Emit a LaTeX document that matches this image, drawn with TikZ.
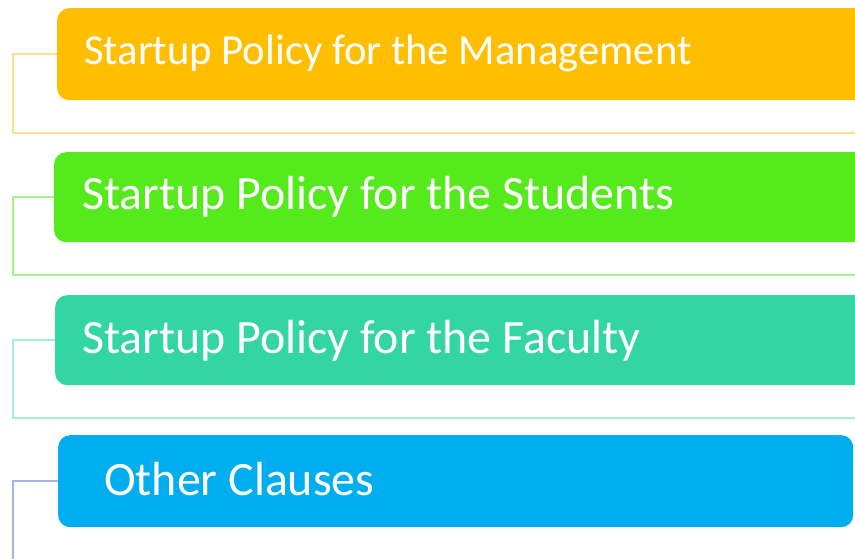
\documentclass[tikz,border=0pt]{standalone}
\usepackage{fontspec}
\setmainfont{Carlito}
\usepackage{tikz}
\usetikzlibrary{calc}
\definecolor{mgmtcol}{HTML}{FFBF00}
\definecolor{studcol}{HTML}{55EA1B}
\definecolor{faccol}{HTML}{33D6A2}
\definecolor{othcol}{HTML}{00AEEF}
\definecolor{mgmtline}{HTML}{FFE08E}
\definecolor{studline}{HTML}{A6F28A}
\definecolor{facline}{HTML}{A6EED8}
\definecolor{othline}{HTML}{A8B2E6}
\tikzset{
  policybox/.style={
    rectangle, rounded corners=12pt, inner sep=0pt, anchor=north west
  },
  policytext/.style={
    anchor=base west, inner sep=0pt, text=white
  },
  bracket/.style={
    line width=1.6pt
  }
}

\begin{document}
\begin{tikzpicture}[x=1pt,y=-1pt]
  \clip (0,0) rectangle (855,559);
  \useasboundingbox (0,0) rectangle (855,559);

  % Boxes
  \node[policybox, fill=mgmtcol, minimum width=830pt, minimum height=92pt] (mgmt) at (57,8) {};
  \node[policybox, fill=studcol, minimum width=830pt, minimum height=90pt] (stud) at (54,152) {};
  \node[policybox, fill=faccol, minimum width=830pt, minimum height=90pt] (fac) at (55,295) {};
  \node[policybox, fill=othcol, minimum width=795pt, minimum height=92pt] (oth) at (58,435) {};

  % Texts
  \node[policytext, font=\fontsize{42.7}{50}\selectfont] (mgmtlabel) at (84,65) {Startup Policy for the Management};
  \node[policytext, font=\fontsize{47.9}{56}\selectfont] (studlabel) at (82,210) {Startup Policy for the Students};
  \node[policytext, font=\fontsize{47.9}{56}\selectfont] (faclabel) at (82,353) {Startup Policy for the Faculty};
  \node[policytext, font=\fontsize{47.9}{56}\selectfont] (othlabel) at (104,495) {Other Clauses};

  % Brackets
  \coordinate (mgmtcorner) at (13,133);
  \coordinate (mgmtend) at (860,133);
  \coordinate (studcorner) at (13,275);
  \coordinate (studend) at (860,275);
  \coordinate (faccorner) at (13,418);
  \coordinate (facend) at (860,418);
  \coordinate (othend) at (13,565);

  \draw[bracket, mgmtline] (mgmt.west) -| (mgmtcorner) -- (mgmtend);
  \draw[bracket, studline] (stud.west) -| (studcorner) -- (studend);
  \draw[bracket, facline] (fac.west) -| (faccorner) -- (facend);
  \draw[bracket, othline] (oth.west) -| (othend);
\end{tikzpicture}
\end{document}
